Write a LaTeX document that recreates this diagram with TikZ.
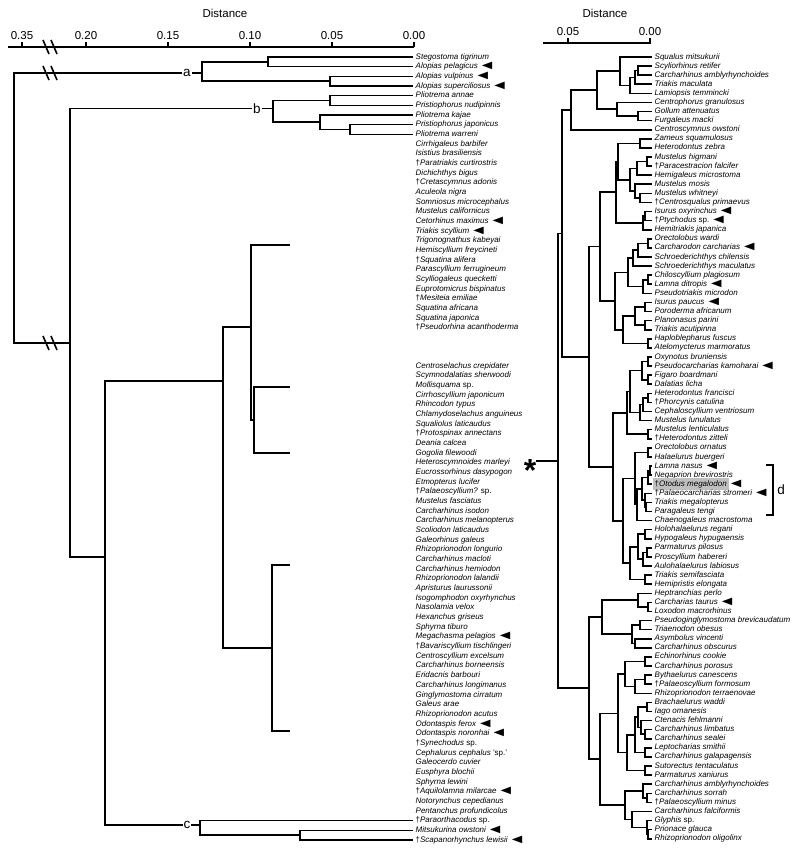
\documentclass[tikz,border=0pt]{standalone}
\usepackage{fontspec}
\setmainfont{Liberation Sans}
\newfontfamily\symfont{DejaVu Sans}
\usetikzlibrary{calc}

\tikzset{
  br/.style={line width=1.6pt},
  taxon/.style={anchor=west, inner xsep=2.5pt, inner ysep=0pt,
    text height=5.8pt, text depth=1.7pt, font=\fontsize{8}{9}\selectfont\itshape},
  scalenum/.style={font=\fontsize{11.5}{12}\selectfont},
  clade/.style={fill=white, inner sep=1pt, font=\fontsize{13.5}{14}\selectfont},
  astx/.style={inner sep=0pt, anchor=base, font=\fontsize{32}{32}\selectfont\bfseries},
  brk/.pic={\draw[br] (-7,-7) -- (-1,7) (1,-7) -- (7,7);},
}
\newcommand\mk{\hspace{4pt}{\symfont\upshape\scalebox{1.7}[1.25]{◀}}}
\newcommand\spp{\textup{sp.}}
\newcommand\dg{\textup{†}}
\newcommand\hl[1]{\hspace*{-2pt}{\setlength\fboxsep{2pt}\colorbox{gray!50}{#1}}\hspace*{-2pt}}
% \jn[y]{name}{x}{child1}{child2}
\newcommand\jn[5][]{%
  \ifx\relax#1\relax
    \path let \p1=(#4), \p2=(#5) in coordinate (#2) at (#3pt,{0.5*\y1+0.5*\y2});
  \else
    \coordinate (#2) at (#3,#1);
  \fi
  \draw[br] (#4) -| (#2) |- (#5);}

\begin{document}
\begin{tikzpicture}[x=1pt, y=-1pt]
\useasboundingbox (0,0) rectangle (800,852);

% scales
\node[scalenum] (ldist) at (225,13) {Distance};
\coordinate (lax0) at (8,47);
\coordinate (lax1) at (414,47);
\draw[br] (lax0) -- (lax1);
\foreach \x/\v in {22/0.35, 86/0.20, 168/0.15, 250/0.10, 332/0.05, 414/0.00}
  \draw[br] (\x,47) -- (\x,42) node[scalenum, above, inner sep=2pt] {\v};
\pic at (50,47) {brk};
\node[scalenum] (rdist) at (605,13) {Distance};
\coordinate (rax0) at (543,43);
\coordinate (rax1) at (651,43);
\draw[br] (rax0) -- (rax1);
\foreach \x/\v in {568/0.05, 650/0.00}
  \draw[br] (\x,43) -- (\x,38) node[scalenum, above, inner sep=2pt] {\v};

% left taxa
\foreach \t [count=\i] in {Stegostoma tigrinum, Alopias pelagicus\mk, Alopias vulpinus\mk,
  Alopias superciliosus\mk, Pliotrema annae, Pristiophorus nudipinnis, Pliotrema kajae,
  Pristiophorus japonicus, Pliotrema warreni, Cirrhigaleus barbifer, Isistius brasiliensis,
  \dg Paratriakis curtirostris, Dichichthys bigus, \dg Cretascymnus adonis, Aculeola nigra,
  Somniosus microcephalus, Mustelus californicus, Cetorhinus maximus\mk, Triakis scyllium\mk,
  Trigonognathus kabeyai, Hemiscyllium freycineti, \dg Squatina alifera, Parascyllium ferrugineum,
  Scylliogaleus quecketti, Euprotomicrus bispinatus, \dg Mesiteia emiliae, Squatina africana,
  Squatina japonica, \dg Pseudorhina acanthoderma,
  Centroselachus crepidater, Scymnodalatias sherwoodi, Mollisquama \spp, Cirrhoscyllium japonicum,
  Rhincodon typus, Chlamydoselachus anguineus, Squaliolus laticaudus, \dg Protospinax annectans,
  Deania calcea, Gogolia filewoodi, Heteroscymnoides marleyi, Eucrossorhinus dasypogon,
  Etmopterus lucifer, \dg Palaeoscyllium? \spp, Mustelus fasciatus, Carcharhinus isodon,
  Carcharhinus melanopterus, Scoliodon laticaudus, Galeorhinus galeus, Rhizoprionodon longurio,
  Carcharhinus macloti, Carcharhinus hemiodon, Rhizoprionodon lalandii, Apristurus laurussonii,
  Isogomphodon oxyrhynchus, Nasolamia velox, Hexanchus griseus, Sphyrna tiburo,
  Megachasma pelagios\mk, \dg Bavariscyllium tischlingeri, Centroscyllium excelsum,
  Carcharhinus borneensis, Eridacnis barbouri, Carcharhinus longimanus, Ginglymostoma cirratum,
  Galeus arae, Rhizoprionodon acutus, Odontaspis ferox\mk, Odontaspis noronhai\mk,
  \dg Synechodus \spp, Cephalurus cephalus \textup{'sp.'}, Galeocerdo cuvier, Eusphyra blochii,
  Sphyrna lewini, \dg Aquilolamna milarcae\mk, Notorynchus cepedianus, Pentanchus profundicolus,
  \dg Paraorthacodus \spp, Mitsukurina owstoni\mk, \dg Scapanorhynchus lewisii\mk}{
  \pgfmathsetmacro\yy{\i<30 ? 57+(\i-1)*9.67 : 840-(79-\i)*9.67}
  \node[taxon] (l\i) at (413,\yy) {\t};
}

% right taxa
\foreach \t [count=\i] in {Squalus mitsukurii, Scyliorhinus retifer, Carcharhinus amblyrhynchoides,
  Triakis maculata, Lamiopsis temmincki, Centrophorus granulosus, Gollum attenuatus,
  Furgaleus macki, Centroscymnus owstoni, Zameus squamulosus, Heterodontus zebra,
  Mustelus higmani, \dg Paracestracion falcifer, Hemigaleus microstoma, Mustelus mosis,
  Mustelus whitneyi, \dg Centrosqualus primaevus, Isurus oxyrinchus\mk, \dg Ptychodus \spp\mk,
  Hemitriakis japanica, Orectolobus wardi, Carcharodon carcharias\mk, Schroederichthys chilensis,
  Schroederichthys maculatus, Chiloscyllium plagiosum, Lamna ditropis\mk, Pseudotriakis microdon,
  Isurus paucus\mk, Poroderma africanum, Planonasus parini, Triakis acutipinna,
  Haploblepharus fuscus, Atelomycterus marmoratus, Oxynotus bruniensis,
  Pseudocarcharias kamoharai\mk, Figaro boardmani, Dalatias licha, Heterodontus francisci,
  \dg Phorcynis catulina, Cephaloscyllium ventriosum, Mustelus lunulatus, Mustelus lenticulatus,
  \dg Heterodontus zitteli, Orectolobus ornatus, Halaelurus buergeri, Lamna nasus\mk,
  Negaprion brevirostris, \hl{\dg Otodus megalodon}\mk, \dg Palaeocarcharias stromeri\mk,
  Triakis megalopterus, Paragaleus tengi, Chaenogaleus macrostoma, Holohalaelurus regani,
  Hypogaleus hypugaensis, Parmaturus pilosus, Proscyllium habereri, Aulohalaelurus labiosus,
  Triakis semifasciata, Hemipristis elongata, Heptranchias perlo, Carcharias taurus\mk,
  Loxodon macrorhinus, Pseudoginglymostoma brevicaudatum, Triaenodon obesus, Asymbolus vincenti,
  Carcharhinus obscurus, Echinorhinus cookie, Carcharhinus porosus, Bythaelurus canescens,
  \dg Palaeoscyllium formosum, Rhizoprionodon terraenovae, Brachaelurus waddi, Iago omanesis,
  Ctenacis fehlmanni, Carcharhinus limbatus, Carcharhinus sealei, Leptocharias smithii,
  Carcharhinus galapagensis, Sutorectus tentaculatus, Parmaturus xaniurus,
  Carcharhinus amblyrhynchoides, Carcharhinus sorrah, \dg Palaeoscyllium minus,
  Carcharhinus falciformis, Glyphis \spp, Prionace glauca, Rhizoprionodon oligolinx}{
  \node[taxon] (r\i) at (652,{57+(\i-1)*9.09}) {\t};
}

% right tree
\jn{ra1}{638}{r2}{r3}
\jn{ra2}{635}{ra1}{r4}
\jn{ra3}{630}{ra2}{r5}
\jn{ra4}{620}{r1}{ra3}
\jn{ra5}{638}{r7}{r8}
\jn{ra6}{617}{r6}{ra5}
\jn{ra7}{597}{ra4}{ra6}
\jn{ra8}{571}{ra7}{r9}
\jn{rb1}{640}{r10}{r11}
\jn{rb2}{647}{r12}{r13}
\jn{rb3}{637}{rb2}{r14}
\jn{rb4}{640}{r16}{r17}
\jn{rb5}{635}{r15}{rb4}
\jn{rb6}{630}{rb3}{rb5}
\jn{rb7}{645}{r18}{r19}
\jn{rb8}{643}{rb7}{r20}
\jn{rb9}{618}{rb1}{rb6}
\jn{rb10}{616}{rb9}{rb8}
\jn{rc1}{648}{r21}{r22}
\jn{rc2}{638}{rc1}{r23}
\jn{rc3}{633}{rc2}{r24}
\jn{rc4}{648}{r25}{r26}
\jn{rc5}{643}{rc4}{r27}
\jn{rc6}{628}{rc3}{rc5}
\jn{rc7}{645}{r28}{r29}
\jn{rc8}{645}{r30}{r31}
\jn{rc9}{635}{rc7}{rc8}
\jn{rc10}{648}{r32}{r33}
\jn{rc11}{623}{rc9}{rc10}
\jn{rc12}{615}{rc6}{rc11}
\jn{rc13}{600}{rb10}{rc12}
\jn{rd1}{648}{r34}{r35}
\jn{rd2}{648}{r36}{r37}
\jn{rd3}{642}{rd1}{rd2}
\jn{rd4}{648}{r38}{r39}
\jn{rd5}{643}{rd4}{r40}
\jn{rd6}{640}{rd5}{r41}
\jn{rd7}{630}{rd3}{rd6}
\jn{rd8}{648}{r42}{r43}
\jn{rd9}{627}{rd7}{rd8}
\jn{re1}{648}{r44}{r45}
\jn{re2}{650}{r46}{r47}
\jn{re3}{648}{re2}{r48}
\jn{re4}{646}{r50}{r51}
\jn{re5}{645}{r49}{re4}
\jn{re6}{642}{re3}{re5}
\jn{re7}{637}{re6}{r52}
\jn{re8}{635}{re1}{re7}
\jn{rf1}{645}{r53}{r54}
\jn{rf2}{647}{r55}{r56}
\jn{rf3}{643}{rf2}{r57}
\jn{rf4}{638}{rf1}{rf3}
\jn{rf5}{645}{r58}{r59}
\jn{rf6}{630}{rf4}{rf5}
\jn{rf7}{623}{re8}{rf6}
\jn{rf8}{613}{rd9}{rf7}
\jn{rf9}{589}{rc13}{rf8}
\jn{rq1}{562}{ra8}{rf9}
\jn{rg1}{648}{r61}{r62}
\jn{rg2}{638}{r60}{rg1}
\jn{rg3}{640}{r63}{r64}
\jn{rg4}{635}{r65}{r66}
\jn{rg5}{632}{rg3}{rg4}
\jn{rg6}{602}{rg2}{rg5}
\jn{rh1}{645}{r67}{r68}
\jn{rh2}{645}{r69}{r70}
\jn{rh3}{635}{rh2}{r71}
\jn{rh4}{625}{rh1}{rh3}
\jn{rh5}{647}{r72}{r73}
\jn{rh6}{645}{r75}{r76}
\jn{rh7}{641}{r74}{rh6}
\jn{rh8}{638}{rh5}{rh7}
\jn{rh9}{645}{r77}{r78}
\jn{rh10}{635}{rh8}{rh9}
\jn{rh11}{645}{r79}{r80}
\jn{rh12}{627}{rh10}{rh11}
\jn{rh13}{618}{rh4}{rh12}
\jn{rh14}{647}{r82}{r83}
\jn{rh15}{643}{r81}{rh14}
\jn{rh16}{648}{r86}{r87}
\jn{rh17}{647}{r85}{rh16}
\jn{rh18}{632}{r84}{rh17}
\jn{rh19}{625}{rh15}{rh18}
\jn{rh20}{600}{rh13}{rh19}
\jn{rh21}{589}{rg6}{rh20}
\jn{rq2}{558}{rq1}{rh21}
\node[astx] (ast2) at (530,481) {*};
\draw[br] (rq2) -- (rq2 -| ast2.east);

% clade d
\coordinate (dtop) at (766,465);
\coordinate (dbot) at (766,515);
\draw[br] (dtop) -- ++(7,0) |- (dbot);
\node[clade] (dlab) at (781,490) {d};

% left tree (deep part)
\jn{la1}{268}{l1}{l2}
\jn{la2}{330}{l3}{l4}
\jn[73]{la}{202}{la1}{la2}
\jn{lb1}{330}{l5}{l6}
\jn{lb2}{350}{l8}{l9}
\jn{lb3}{320}{l7}{lb2}
\jn[108.5]{lb}{273}{lb1}{lb3}
\coordinate (lU1) at (290,245);
\coordinate (lX) at (290,387);
\coordinate (lY) at (290,453);
\coordinate (lZ1) at (290,565);
\coordinate (lZ2) at (290,731);
\jn{lc1}{300}{l78}{l79}
\jn[825]{lc}{200}{l77}{lc1}
\jn[420]{ln254}{254}{lX}{lY}
\jn[327]{ln251}{251}{lU1}{ln254}
\jn[648]{ln272}{272}{lZ1}{lZ2}
\jn[381]{ln223}{223}{ln251}{ln272}
\jn[557]{ln105}{105}{ln223}{lc}
\jn[343]{ln70}{70}{lb}{ln105}
\jn{lroot}{14}{la}{ln70}
\pic at (50,0 |- la) {brk};
\pic at (50,0 |- ln70) {brk};
\node[clade] (alab) at ($(la)+(-15,0)$) {a};
\node[clade] (blab) at ($(lb)+(-16,0)$) {b};
\node[clade] (clab) at ($(lc)+(-13,0)$) {c};
\end{tikzpicture}
\end{document}
